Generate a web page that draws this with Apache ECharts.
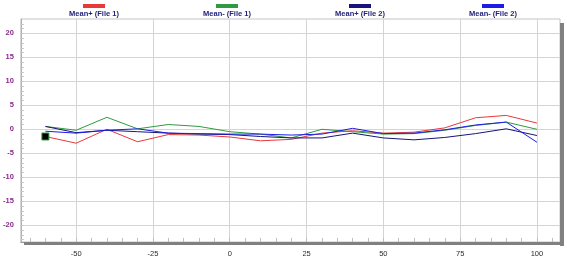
<!DOCTYPE html>
<html><head><meta charset="utf-8">
<script src="https://cdn.jsdelivr.net/npm/echarts@6/dist/echarts.min.js"></script>
<style>html,body{margin:0;padding:0;background:#fff}#c{width:567px;height:259px}</style>
</head><body><div id="c"></div>
<script>
const xValues = [-60,-50,-40,-30,-20,-10,0,10,20,30,40,50,60,70,80,90,100];
const meanPlusFile1  = [-1.5,-2.9,0.0,-2.6,-1.1,-1.2,-1.6,-2.4,-2.1,-0.8,-0.3,-0.8,-0.6,0.3,2.4,2.9,1.3];
const meanMinusFile1 = [0.6,-0.2,2.5,0.1,1.0,0.6,-0.5,-1.0,-1.8,0.0,-0.5,-1.0,-0.9,-0.2,0.8,1.5,0.0];
const meanPlusFile2  = [0.6,-0.7,-0.2,-0.5,-0.8,-1.0,-1.1,-1.5,-1.8,-1.8,-0.8,-1.8,-2.2,-1.7,-0.9,0.1,-1.3];
const meanMinusFile2 = [-0.4,-0.8,-0.2,0.1,-0.8,-0.9,-1.0,-1.0,-1.2,-1.0,0.2,-0.9,-0.8,-0.1,0.9,1.5,-2.7];
const seriesNames = ['Mean+ (File 1)','Mean- (File 1)','Mean+ (File 2)','Mean- (File 2)'];
const seriesColors = ['#e8383a','#2f9a3e','#15157a','#1c1ce6'];
const xTickLabels = [-50,-25,0,25,50,75,100];
const yTickLabels = [-20,-15,-10,-5,0,5,10,15,20];
const xMinorTicks = [-65,-60,-55,-50,-45,-40,-35,-30,-25,-20,-15,-10,-5,0,5,10,15,20,25,30,35,40,45,50,55,60,65,70,75,80,85,90,95,100,105];
const yMinorTicks = [];
for (let v = -23; v <= 22; v++) yMinorTicks.push(v);

const allSeries = [meanPlusFile1, meanMinusFile1, meanPlusFile2, meanMinusFile2];
const chart = echarts.init(document.getElementById('c'), null, {renderer:'canvas'});
const FONT = 'Liberation Sans';
const rich = {};
seriesColors.forEach((c,i)=>{ rich['b'+i] = {width:22,height:4,backgroundColor:c,align:'center'}; });
rich.t = {fontFamily:FONT,fontSize:7.5,fontWeight:'bold',color:'#23237a',width:100,align:'center',lineHeight:11};

const series = allSeries.map((arr,i)=>({
  name: seriesNames[i],
  type:'line',
  xAxisIndex:0, yAxisIndex:0,
  data: arr.map((v,j)=>{
    if (i===0 && j===0) return {value:[xValues[j],v], symbol:'rect', symbolSize:7, itemStyle:{color:'#000',borderColor:'#2f9a3e',borderWidth:1}};
    return [xValues[j],v];
  }),
  symbol:'none', showSymbol:true, symbolSize:0,
  lineStyle:{color:seriesColors[i],width:1},
  itemStyle:{color:seriesColors[i]},
  animation:false,
  z: 2+i
}));

chart.setOption({
  animation:false,
  textStyle:{fontFamily:FONT},
  grid:{left:20,top:19,right:7,bottom:17,show:true,borderColor:'#c4c4c4',borderWidth:1},
  legend:{
    top:-5, left:34, itemWidth:0, itemHeight:0, itemGap:28, icon:'rect',
    selectedMode:false,
    data: seriesNames.map((n,i)=>({name:n, itemStyle:{opacity:0}})),
    formatter: (name)=>{ const i = seriesNames.indexOf(name); return '{b'+i+'|}\n{t|'+name+'}'; },
    textStyle:{rich:rich, align:'center', width:100}
  },
  xAxis:[
    {type:'value', min:-68, max:107.5,
     axisLine:{show:true,onZero:false,lineStyle:{color:'#9a9a9a',width:1}},
     axisTick:{show:false, customValues:xTickLabels},
     axisLabel:{customValues:xTickLabels, color:'#2a2a2a', fontSize:7.5, fontFamily:FONT, margin:8},
     splitLine:{show:true,lineStyle:{color:'#d4d4d4',width:1}}},
    {type:'value', min:-68, max:107.5, position:'bottom',
     axisLine:{show:false,onZero:false},
     axisTick:{show:true, inside:true, length:4, customValues:xMinorTicks, lineStyle:{color:'#bdbdbd'}},
     axisLabel:{show:false}, splitLine:{show:false}}
  ],
  yAxis:[
    {type:'value', min:-23.5, max:23,
     axisLine:{show:true,onZero:false,lineStyle:{color:'#b0b0b0',width:1}},
     axisTick:{show:false, customValues:yTickLabels},
     axisLabel:{customValues:yTickLabels, color:'#8a2a8a', fontSize:7.5, fontWeight:'bold', fontFamily:FONT, margin:7},
     splitLine:{show:true,lineStyle:{color:'#d4d4d4',width:1}}},
    {type:'value', min:-23.5, max:23, position:'left',
     axisLine:{show:false,onZero:false},
     axisTick:{show:true, inside:true, length:3, customValues:yMinorTicks, lineStyle:{color:'#c4c4c4'}},
     axisLabel:{show:false}, splitLine:{show:false}}
  ],
  graphic:[
    {type:'rect', shape:{x:560,y:23,width:4,height:223}, style:{fill:'#808080'}, z:10},
    {type:'rect', shape:{x:24,y:242,width:540,height:3}, style:{fill:'#808080'}, z:10}
  ],
  series: series
});
</script></body></html>
